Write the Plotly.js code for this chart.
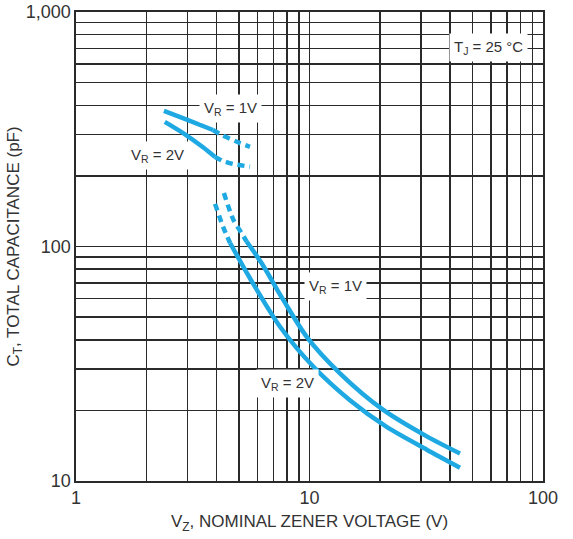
<!DOCTYPE html>
<html>
<head>
<meta charset="utf-8">
<script src="https://cdn.plot.ly/plotly-3.0.1.min.js"></script>
<style>html,body{margin:0;padding:0;background:#fff;}#chart{width:573px;height:539px;}</style>
</head>
<body>
<div id="chart"></div>
<script>
// Data (V_Z in volts, C_T in pF)
var vr1LeftSolidV = [2.38, 3.0, 3.86];
var vr1LeftSolidC = [379, 347, 314];
var vr1LeftDashV = [3.86, 4.21, 5.04, 5.56];
var vr1LeftDashC = [314, 299, 276, 266];
var vr2LeftSolidV = [2.40, 2.93, 3.50, 3.94];
var vr2LeftSolidC = [340, 301, 265, 241];
var vr2LeftDashV = [3.94, 4.21, 4.70, 5.56];
var vr2LeftDashC = [241, 233, 225, 219];

var vr1RightDashV = [4.30, 4.72, 5.12, 5.38];
var vr1RightDashC = [169, 130, 114, 105];
var vr1RightSolidV = [5.38, 6.24, 7.72, 9.73, 13.5, 20.7, 31.8, 44.1];
var vr1RightSolidC = [105, 84.8, 59.2, 41.2, 28.8, 20.1, 15.5, 13.1];
var vr2RightDashV = [3.94, 4.27, 4.57];
var vr2RightDashC = [152, 121, 103.5];
var vr2RightSolidV = [4.57, 5.56, 7.48, 10.4, 14.9, 21.4, 31.8, 44.1];
var vr2RightSolidC = [103.5, 73.2, 45.5, 30.7, 22.1, 17.0, 13.6, 11.4];

var xTickVals = [1,2,3,4,5,6,7,8,9,10,20,30,40,50,60,70,80,90,100];
var xTickText = ["1","","","","","","","","","10","","","","","","","","","100"];
var yTickVals = [10,20,30,40,50,60,70,80,90,100,200,300,400,500,600,700,800,900,1000];
var yTickText = ["10","","","","","","","","","100","","","","","","","","","1,000"];

var blue = '#1FA9E3';
function tr(x, y, dashed) {
  return {x: x, y: y, type: 'scatter', mode: 'lines', hoverinfo: 'skip',
    line: {color: blue, width: 4.5, shape: 'spline', smoothing: 0.8, dash: dashed ? '7px,5px' : 'solid'}};
}
var data = [
  tr(vr1LeftSolidV, vr1LeftSolidC, false),
  tr(vr1LeftDashV, vr1LeftDashC, true),
  tr(vr2LeftSolidV, vr2LeftSolidC, false),
  tr(vr2LeftDashV, vr2LeftDashC, true),
  tr(vr1RightDashV, vr1RightDashC, true),
  tr(vr1RightSolidV, vr1RightSolidC, false),
  tr(vr2RightDashV, vr2RightDashC, true),
  tr(vr2RightSolidV, vr2RightSolidC, false)
];

var gridCol = '#2a2a2a';
var fontFam = '"Liberation Sans", Arial, sans-serif';
function ann(txt, px, py) {
  return {text: txt, xref: 'paper', yref: 'paper',
    x: (px - 76) / 467, y: (481 - py) / 469, showarrow: false,
    xanchor: 'center', yanchor: 'middle',
    bgcolor: '#ffffff', borderpad: 4,
    font: {family: fontFam, size: 15, color: '#333'}};
}

var layout = {
  width: 573, height: 539,
  margin: {l: 76, r: 30, t: 12, b: 58},
  paper_bgcolor: '#fff', plot_bgcolor: '#fff',
  showlegend: false,
  font: {family: fontFam, color: '#333'},
  xaxis: {
    type: 'log', range: [0, 2],
    tickmode: 'array', tickvals: xTickVals, ticktext: xTickText,
    showgrid: true, gridcolor: gridCol, gridwidth: 1.5,
    showline: true, linecolor: gridCol, linewidth: 1.6, mirror: true,
    ticks: '', zeroline: false,
    tickfont: {family: fontFam, size: 18, color: '#333'},
    title: {text: 'V<sub>Z</sub>, NOMINAL ZENER VOLTAGE (V)', font: {family: fontFam, size: 17, color: '#333'}, standoff: 8}
  },
  yaxis: {
    type: 'log', range: [1, 3],
    tickmode: 'array', tickvals: yTickVals, ticktext: yTickText,
    showgrid: true, gridcolor: gridCol, gridwidth: 1.5,
    showline: true, linecolor: gridCol, linewidth: 1.6, mirror: true,
    ticks: '', zeroline: false,
    tickfont: {family: fontFam, size: 18, color: '#333'},
    title: {text: 'C<sub>T</sub>, TOTAL CAPACITANCE (pF)', font: {family: fontFam, size: 17, color: '#333'}, standoff: 2}
  },
  annotations: [
    ann('V<sub>R</sub> = 1V', 230, 108),
    ann('V<sub>R</sub> = 2V', 157, 155),
    ann('V<sub>R</sub> = 1V', 335, 286),
    ann('V<sub>R</sub> = 2V', 287, 383),
    ann('T<sub>J</sub> = 25 °C', 488, 47)
  ]
};

Plotly.newPlot('chart', data, layout, {displayModeBar: false, staticPlot: true});
</script>
</body>
</html>
